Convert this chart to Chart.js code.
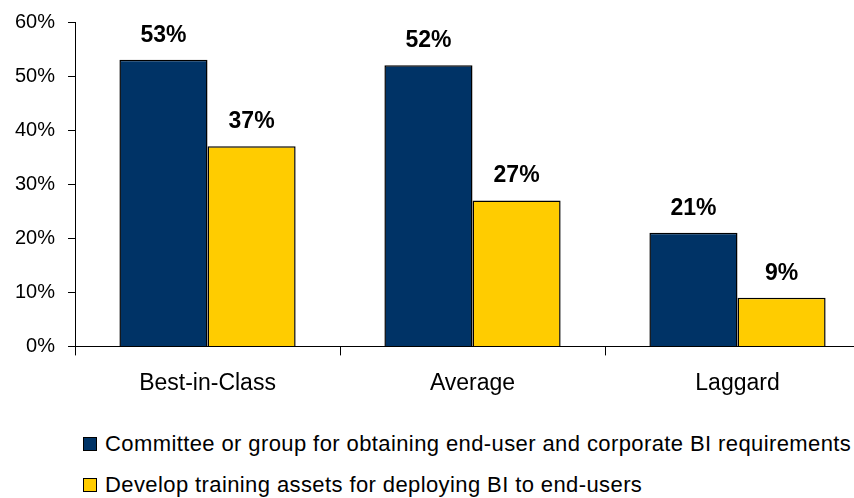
<!DOCTYPE html>
<html>
<head>
<meta charset="utf-8">
<title>BI practices by maturity class</title>
<script src="https://cdn.jsdelivr.net/npm/chart.js@4.4.1/dist/chart.umd.min.js"></script>
<style>
  html, body { margin: 0; padding: 0; background: #fff; overflow: hidden; width: 854px; height: 498px; }
  #wrap { position: absolute; left: 0; top: -3px; width: 872px; height: 414px; }
  #legend { position: absolute; left: 83px; top: 423px; font-family: "Liberation Sans", Arial, sans-serif; font-size: 22px; letter-spacing: 0.4px; color: #000; }
  .row { display: flex; align-items: center; height: 41px; white-space: nowrap; }
  .swatch { width: 14px; height: 14px; box-sizing: border-box; border: 1.5px solid #000; margin-right: 8px; }
</style>
</head>
<body>
<div id="wrap"><canvas id="barChart"></canvas></div>
<div id="legend"></div>

<script>
var categories = ["Best-in-Class", "Average", "Laggard"];
var committeeValues = [53, 52, 21];
var trainingValues = [37, 27, 9];
var seriesNames = [
    "Committee or group for obtaining end-user and corporate BI requirements",
    "Develop training assets for deploying BI to end-users"
];
var seriesColors = ["#003366", "#FFCC00"];
var yTicks = [0, 10, 20, 30, 40, 50, 60];

var fontFamily = '"Liberation Sans", Arial, sans-serif';

// percent labels above every bar
var barValueLabels = {
    id: 'barValueLabels',
    afterDatasetsDraw: function (chart) {
        var ctx = chart.ctx;
        ctx.save();
        ctx.font = 'bold 23px ' + fontFamily;
        ctx.fillStyle = '#000';
        ctx.textAlign = 'center';
        ctx.textBaseline = 'alphabetic';
        chart.data.datasets.forEach(function (ds, i) {
            chart.getDatasetMeta(i).data.forEach(function (bar, j) {
                ctx.fillText(ds.data[j] + '%', bar.x, bar.y - 18);
            });
        });
        ctx.restore();
    }
};

function buildLegend() {
    var box = document.getElementById('legend');
    seriesNames.forEach(function (name, i) {
        var row = document.createElement('div');
        row.className = 'row';
        var sw = document.createElement('span');
        sw.className = 'swatch';
        sw.style.background = seriesColors[i];
        var txt = document.createElement('span');
        txt.textContent = name;
        row.appendChild(sw);
        row.appendChild(txt);
        box.appendChild(row);
    });
}

function renderChart() {
    new Chart(document.getElementById('barChart'), {
        type: 'bar',
        data: {
            labels: categories,
            datasets: [
                {
                    label: seriesNames[0],
                    data: committeeValues,
                    backgroundColor: seriesColors[0],
                    borderColor: '#000',
                    borderWidth: 1.5,
                    categoryPercentage: 0.665,
                    barPercentage: 1.0
                },
                {
                    label: seriesNames[1],
                    data: trainingValues,
                    backgroundColor: seriesColors[1],
                    borderColor: '#000',
                    borderWidth: 1.5,
                    categoryPercentage: 0.665,
                    barPercentage: 1.0
                }
            ]
        },
        options: {
            responsive: true,
            maintainAspectRatio: false,
            animation: false,
            layout: { padding: { top: 15, left: 2, right: 2, bottom: 0 } },
            plugins: {
                legend: { display: false },
                tooltip: { enabled: false }
            },
            scales: {
                x: {
                    border: { display: true, color: '#000', width: 1 },
                    grid: { offset: true, drawOnChartArea: false, drawTicks: true, tickLength: 9, color: '#000' },
                    ticks: { color: '#000', font: { family: fontFamily, size: 23 }, padding: 14 }
                },
                y: {
                    min: 0,
                    max: 60,
                    afterBuildTicks: function (axis) {
                        axis.ticks = yTicks.map(function (v) { return { value: v }; });
                    },
                    border: { display: true, color: '#000', width: 1 },
                    grid: { drawOnChartArea: false, drawTicks: true, tickLength: 7, color: '#000' },
                    ticks: {
                        color: '#000',
                        font: { family: fontFamily, size: 20 },
                        padding: 13,
                        callback: function (v) { return v + '%'; }
                    }
                }
            }
        },
        plugins: [barValueLabels]
    });
}

buildLegend();
renderChart();
</script>
</body>
</html>
